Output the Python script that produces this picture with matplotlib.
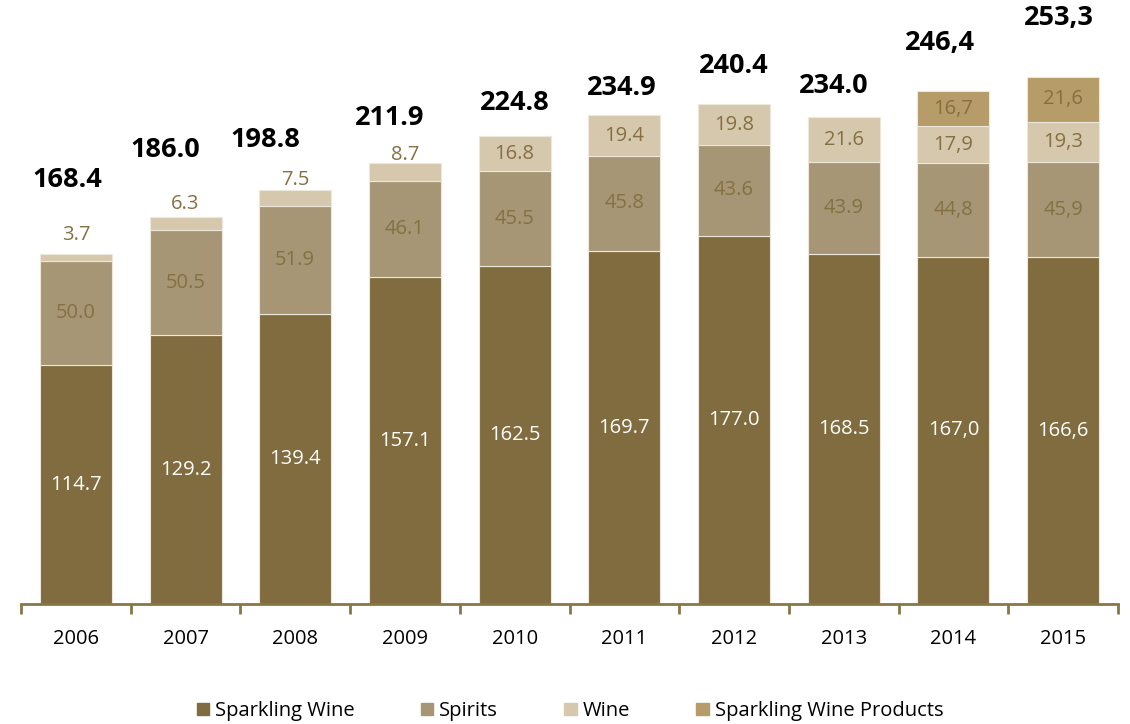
import matplotlib
matplotlib.use("Agg")
import matplotlib.pyplot as plt
from matplotlib.patches import Patch
import numpy as np

years = ["2006", "2007", "2008", "2009", "2010", "2011", "2012", "2013", "2014", "2015"]
sparkling_wine = [114.7, 129.2, 139.4, 157.1, 162.5, 169.7, 177.0, 168.5, 167.0, 166.6]
spirits = [50.0, 50.5, 51.9, 46.1, 45.5, 45.8, 43.6, 43.9, 44.8, 45.9]
wine = [3.7, 6.3, 7.5, 8.7, 16.8, 19.4, 19.8, 21.6, 17.9, 19.3]
sw_products = [0, 0, 0, 0, 0, 0, 0, 0, 16.7, 21.6]
totals = [168.4, 186.0, 198.8, 211.9, 224.8, 234.9, 240.4, 234.0, 246.4, 253.3]
comma_years = ["2014", "2015"]

# label placement tweaks (pixels)
total_dx = [-9, -20, -30, -15, 0, -3, 0, -10, -14, -4]
total_dy = [74, 67, 50, 45, 33, 27, 38, 31, 48, 59]
small_wine_dy = [9, 3, 0, -2]

c_spark = "#806C3E"
c_spirit = "#A69676"
c_wine = "#D6C8AC"
c_prod = "#B59C68"
c_text = "#857041"
c_axis = "#8A7547"

plt.rcParams["font.family"] = ["Open Sans", "DejaVu Sans"]

def fmt(v, yr):
    s = "%.1f" % v
    if yr in comma_years:
        s = s.replace(".", ",")
    return s

fig = plt.figure(figsize=(11.3, 7.24), dpi=100)
ax = fig.add_axes([21 / 1130, 120 / 724, 1097 / 1130, 604 / 724])

x = np.arange(len(years))
w = 0.656
sw = np.array(sparkling_wine)
sp = np.array(spirits)
wn = np.array(wine)
pr = np.array(sw_products)

edge = dict(edgecolor="#EEE8DC", linewidth=0.8)
ax.bar(x, sw, w, color=c_spark, **edge)
ax.bar(x, sp, w, bottom=sw, color=c_spirit, **edge)
ax.bar(x, wn, w, bottom=sw + sp, color=c_wine, **edge)
has_prod = pr > 0
ax.bar(x[has_prod], pr[has_prod], w, bottom=(sw + sp + wn)[has_prod], color=c_prod, **edge)

fs = 14.5
for i, yr in enumerate(years):
    ax.text(x[i], sw[i] / 2, fmt(sw[i], yr), ha="center", va="center",
            color="white", fontsize=fs)
    ax.text(x[i], sw[i] + sp[i] / 2, fmt(sp[i], yr), ha="center", va="center",
            color=c_text, fontsize=fs)
    top_w = sw[i] + sp[i] + wn[i]
    if wn[i] < 10:
        ax.annotate(fmt(wn[i], yr), (x[i], top_w), xytext=(0, small_wine_dy[i] * 0.72),
                    textcoords="offset points", ha="center", va="bottom",
                    color=c_text, fontsize=fs)
    else:
        ax.text(x[i], top_w - wn[i] / 2, fmt(wn[i], yr), ha="center", va="center",
                color=c_text, fontsize=fs)
    if pr[i] > 0:
        ax.text(x[i], top_w + pr[i] / 2, fmt(pr[i], yr), ha="center", va="center",
                color=c_text, fontsize=fs)
    top = sw[i] + sp[i] + wn[i] + pr[i]
    ax.annotate(fmt(totals[i], yr), (x[i], top),
                xytext=(total_dx[i] * 0.72, total_dy[i] * 0.72),
                textcoords="offset points", ha="center", va="center",
                color="black", fontsize=19.5, fontweight="bold")

ax.set_xlim(-0.5, len(years) - 0.5)
ax.set_ylim(0, 604 / 2.08)
for s in ["top", "right", "left"]:
    ax.spines[s].set_visible(False)
ax.spines["bottom"].set_color(c_axis)
ax.spines["bottom"].set_linewidth(2)
ax.set_yticks([])
ax.set_xticks(x)
ax.set_xticklabels(years, fontsize=fs)
ax.tick_params(axis="x", which="major", length=0, pad=18)
ax.set_xticks(np.arange(-0.5, len(years)), minor=True)
ax.tick_params(axis="x", which="minor", length=7, width=2, color=c_axis)

handles = [Patch(color=c_spark, label="Sparkling Wine"),
           Patch(color=c_spirit, label="Spirits"),
           Patch(color=c_wine, label="Wine"),
           Patch(color=c_prod, label="Sparkling Wine Products")]
fig.legend(handles=handles, loc="center", bbox_to_anchor=(570 / 1130, 1 - 711 / 724),
           ncol=4, frameon=False, fontsize=fs, handlelength=0.6, handleheight=0.6,
           handletextpad=0.3, columnspacing=3.3)

fig.savefig("out.png", dpi=100)
